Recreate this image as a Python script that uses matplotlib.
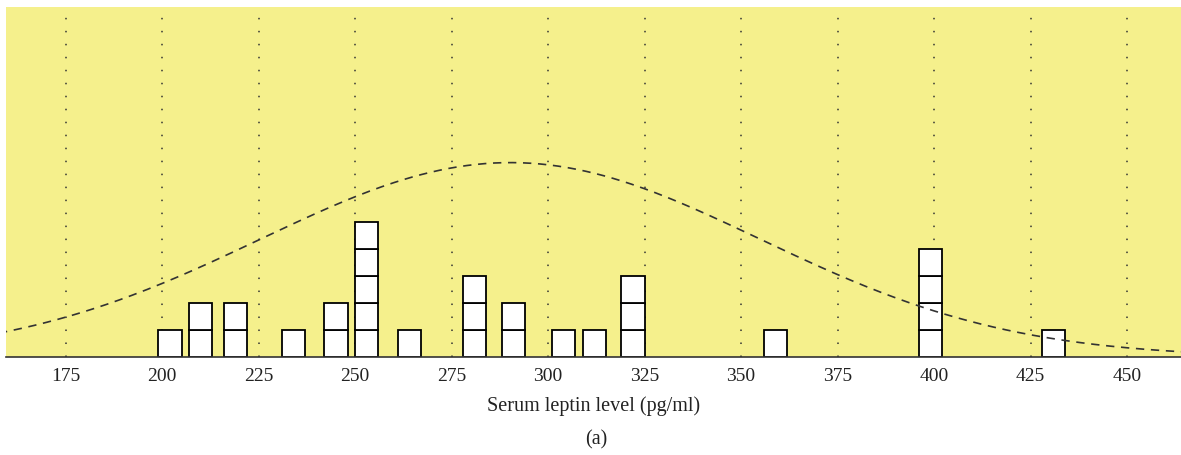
import matplotlib.pyplot as plt
import numpy as np

values = [202, 210, 219, 234, 245, 253, 264, 281, 291, 304, 312, 322, 359, 399, 431]
counts = [1, 2, 2, 1, 2, 5, 1, 3, 2, 1, 1, 3, 1, 4, 1]
ticks = [175, 200, 225, 250, 275, 300, 325, 350, 375, 400, 425, 450]
curve_peak = 7.2  # height of the fitted normal curve at its top, in box units

plt.rcParams['font.family'] = ['Liberation Serif', 'DejaVu Serif']

fig = plt.figure(figsize=(11.81, 4.55), dpi=100)
ax = fig.add_axes([6 / 1181, 1 - 357 / 455, 1175 / 1181, 350 / 455])
ax.set_facecolor('#f5f08c')

# stacked boxes
for v, c in zip(values, counts):
    ax.bar([v] * c, [1] * c, bottom=np.arange(c), width=6,
           color='white', edgecolor='black', linewidth=1.3, zorder=3)

# normal curve from the sample mean / sd
data = np.repeat(values, counts)
mu, sd = data.mean(), data.std(ddof=1)
xs = np.linspace(155, 470, 400)
ys = curve_peak * np.exp(-0.5 * ((xs - mu) / sd) ** 2)
ax.plot(xs, ys, color='#333333', lw=1.2, dashes=(5, 4), zorder=4)

ax.set_xlim(159.5, 464)
ax.set_ylim(0, 350 / 27)
ax.set_xticks(ticks)
ax.set_yticks([])
ax.tick_params(axis='x', length=0, labelsize=14, pad=8, colors='#222222')
ax.grid(axis='x', color='#333333', lw=1.1, linestyle=(0, (1, 7.5)), zorder=1)
for s in ['left', 'right', 'top']:
    ax.spines[s].set_visible(False)
ax.spines['bottom'].set_color('#333333')
ax.spines['bottom'].set_linewidth(1.2)
ax.spines['bottom'].set_zorder(5)

ax.set_xlabel('Serum leptin level (pg/ml)', fontsize=14.5, labelpad=8, color='#222222')
fig.text(596 / 1181, 1 - 440 / 455, '(a)', fontsize=14.5, ha='center', va='center', color='#222222')

fig.savefig('out.png', dpi=100)
